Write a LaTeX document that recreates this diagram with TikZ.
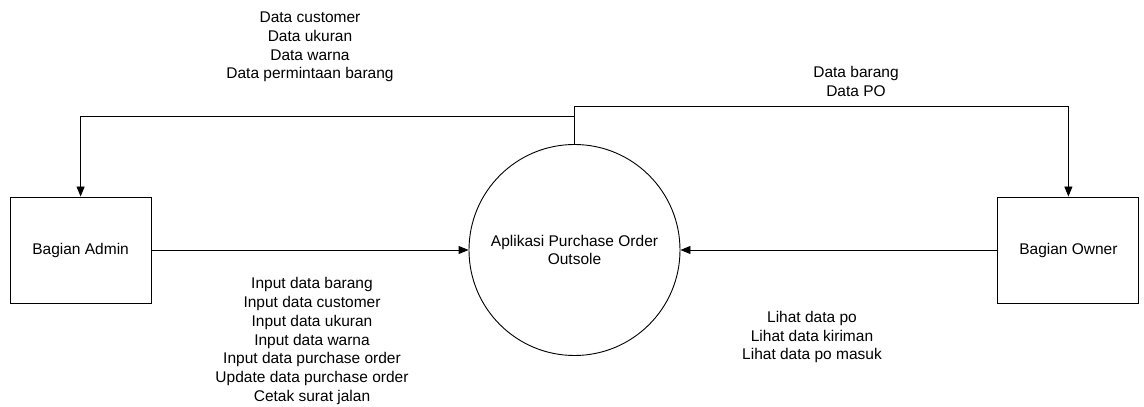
\documentclass[tikz,border=0pt]{standalone}
\usepackage{fontspec}
\setmainfont{Liberation Sans}
\usepackage{tikz}
\usetikzlibrary{shapes,arrows,positioning,calc,arrows.meta}

\begin{document}
\begin{tikzpicture}[x=1pt, y=1pt, node distance=317pt,
    font=\fontsize{15.5}{18.7}\selectfont, line width=0.9pt,
    entity/.style={draw, minimum width=141pt, minimum height=106pt, inner sep=0pt},
    process/.style={draw, circle, minimum size=211pt, inner sep=0pt, align=center},
    flow/.style={-{Triangle[length=10pt,width=8pt]}},
    lbl/.style={align=center, inner sep=0pt}]
    \useasboundingbox (0,0) rectangle (1144,407);

    \node [process] at (574.5,157) (proc) {Aplikasi Purchase Order\\Outsole};
    \node [entity, left=of proc] (admin) {Bagian Admin};
    \node [entity, right=of proc] (owner) {Bagian Owner};

    \node [lbl] at (310,360) (lbladmout) {Data customer\\Data ukuran\\Data warna\\Data permintaan barang};
    \node [lbl] at (856,325.5) (lblownout) {Data barang\\Data PO};
    \node [lbl] at (312,66) (lbladmin) {Input data barang\\Input data customer\\Input data ukuran\\Input data warna\\Input data purchase order\\Update data purchase order\\Cetak surat jalan};
    \node [lbl] at (812,70) (lblownin) {Lihat data po\\Lihat data kiriman\\Lihat data po masuk};

    \draw [flow] (admin) -- (proc);
    \draw [flow] (owner) -- (proc);
    \draw [flow] (proc.north) -- ++(0,27.5) -| (admin.north);
    \draw [flow] (proc.north) -- ++(0,37.5) -| (owner.north);
\end{tikzpicture}
\end{document}
